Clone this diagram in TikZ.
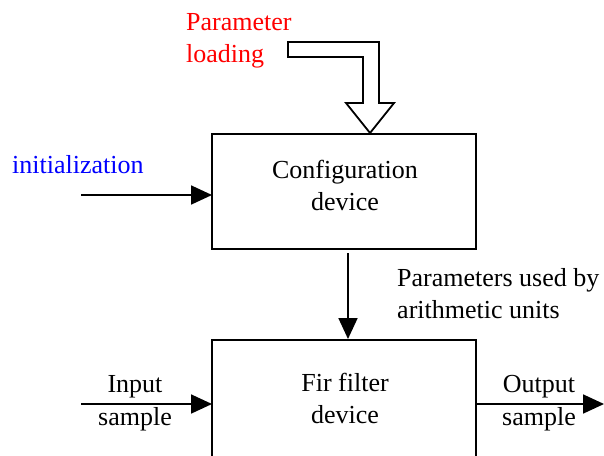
\documentclass[tikz,border=0pt]{standalone}
\usepackage{fontspec}
\setmainfont{Liberation Serif}
\usetikzlibrary{arrows.meta}
\tikzset{
  blk/.style={draw=black, line width=1.8pt, fill=white},
  conn/.style={line width=1.8pt, -{Triangle[length=21pt,width=19pt]}},
  txt/.style={inner sep=0pt, font=\fontsize{26}{32}\selectfont, align=center, anchor=base},
}
\begin{document}
\begin{tikzpicture}[x=1pt,y=-1pt]
\useasboundingbox (0,0) rectangle (604,455);
\clip (0,0) rectangle (604,455);
% boxes
\draw[blk] (212,134) rectangle (476,249);
\node[txt] (config) at (345,210) {Configuration\\device};
\draw[blk] (212,340) rectangle (476,480);
\node[txt] (fir) at (345,423) {Fir filter\\device};
% hollow arrow
\draw[line width=1.8pt, fill=white, line join=miter]
  (288,42) -- (379,42) -- (379,103) -- (394,103) -- (370,133) -- (346,103)
  -- (363,103) -- (363,57) -- (288,57) -- cycle;
\node[txt, align=left, anchor=base west, text=red] (ploading) at (186,62) {Parameter\\loading};
% initialization
\node[txt, anchor=base west, text=blue] (init) at (12,173) {initialization};
\coordinate (initS) at (81,195);
\coordinate (initE) at (212,195);
\draw[conn] (initS) -- (initE);
% middle arrow
\coordinate (midS) at (348,253);
\coordinate (midE) at (348,339);
\draw[conn] (midS) -- (midE);
\node[txt, align=left, anchor=base west] (plabel) at (397,318) {Parameters used by\\arithmetic units};
% input
\coordinate (inS) at (81,404);
\coordinate (inE) at (212,404);
\draw[conn] (inS) -- (inE);
\node[txt, font=\fontsize{26}{33}\selectfont] (inlbl) at (135,425) {Input\\sample};
% output
\coordinate (outS) at (476,404);
\coordinate (outE) at (604,404);
\draw[conn] (outS) -- (outE);
\node[txt, font=\fontsize{26}{33}\selectfont] (outlbl) at (539,425) {Output\\sample};
\end{tikzpicture}
\end{document}
